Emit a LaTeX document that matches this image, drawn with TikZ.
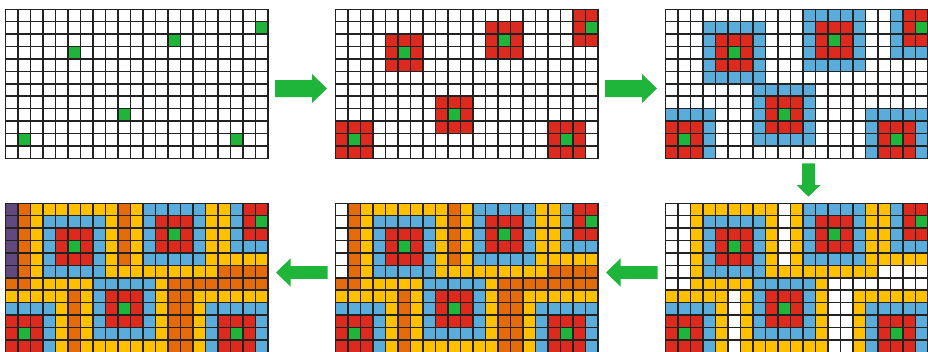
\documentclass[tikz,border=0pt]{standalone}
\definecolor{cgreen}{RGB}{31,181,58}
\definecolor{cred}{RGB}{220,42,30}
\definecolor{cblue}{RGB}{90,172,219}
\definecolor{cyellow}{RGB}{255,192,0}
\definecolor{corange}{RGB}{228,107,10}
\definecolor{cpurple}{RGB}{97,73,128}
\definecolor{cline}{RGB}{34,34,34}
\tikzset{
  gline/.style={draw=cline,line width=1.5pt,line cap=rect},
  bigarrow/.style={fill=cgreen,draw=none}
}
\newcommand\stagegrid[3]{%
  \foreach \r in {0,...,11}{%
    \foreach \c in {0,...,20}{%
      \pgfmathtruncatemacro\dd{min(max(abs(\r-1),abs(\c-20)),max(abs(\r-2),abs(\c-13)),max(abs(\r-3),abs(\c-5)),max(abs(\r-8),abs(\c-9)),max(abs(\r-10),abs(\c-1)),max(abs(\r-10),abs(\c-18)))}%
      \ifnum\dd>#3\relax\def\cc{white}\else
        \ifcase\dd\def\cc{cgreen}\or\def\cc{cred}\or\def\cc{cblue}\or\def\cc{cyellow}\or\def\cc{corange}\else\def\cc{cpurple}\fi
      \fi
      \fill[\cc] ({#1+\c*12.52},{#2+\r*12.42}) rectangle ++(12.52,12.42);
    }%
  }%
  \foreach \c in {0,...,21}{\draw[gline] ({#1+\c*12.52},#2) -- ++(0,149.04);}%
  \foreach \r in {0,...,12}{\draw[gline] (#1,{#2+\r*12.42}) -- ++(262.92,0);}%
}
\begin{document}
\begin{tikzpicture}[x=1pt,y=-1pt]
\useasboundingbox (0,0) rectangle (928,351);
\clip (0,0) rectangle (928,351);
\fill[white] (0,0) rectangle (928,351);
\stagegrid{5.3}{9.3}{0}
\stagegrid{335.3}{9.3}{1}
\stagegrid{665.3}{9.3}{2}
\stagegrid{665.3}{203.3}{3}
\stagegrid{335.3}{203.3}{4}
\stagegrid{5.3}{203.3}{5}
% right arrows (top row)
\fill[bigarrow] (275,80) -- (312,80) -- (312,74) -- (327,88.5) -- (312,103) -- (312,97) -- (275,97) -- cycle;
\fill[bigarrow] (605,80) -- (642,80) -- (642,74) -- (657,88.5) -- (642,103) -- (642,97) -- (605,97) -- cycle;
% down arrow
\fill[bigarrow] (802,163.3) -- (815,163.3) -- (815,185) -- (820.5,185) -- (808.5,196.7) -- (796.5,185) -- (802,185) -- cycle;
% left arrows (bottom row)
\fill[bigarrow] (327.7,266.2) -- (290.7,266.2) -- (290.7,258.2) -- (276,272.5) -- (290.7,286.8) -- (290.7,278.8) -- (327.7,278.8) -- cycle;
\fill[bigarrow] (657.7,266.2) -- (620.7,266.2) -- (620.7,258.2) -- (606,272.5) -- (620.7,286.8) -- (620.7,278.8) -- (657.7,278.8) -- cycle;
\end{tikzpicture}
\end{document}
